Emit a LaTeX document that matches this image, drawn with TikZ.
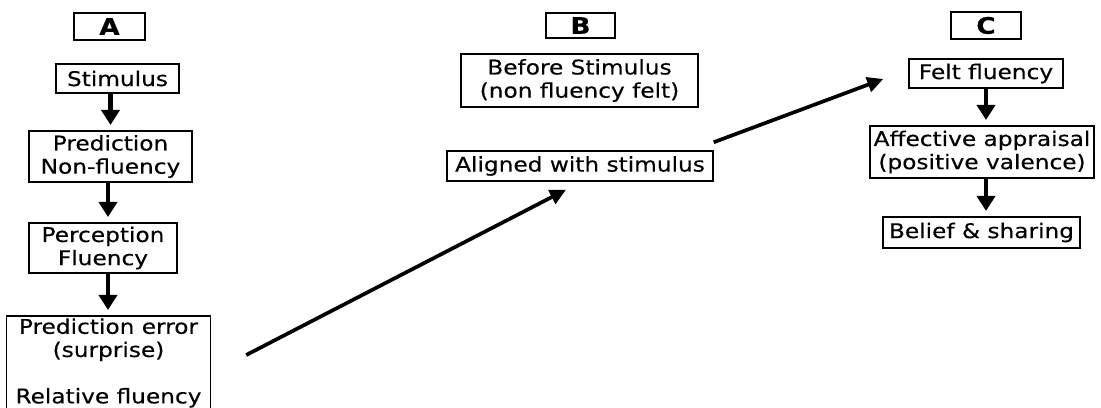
\documentclass[tikz,border=0pt]{standalone}
\usepackage{fontspec}
\setmainfont[FakeStretch=1.15,FakeBold=0.3]{DejaVu Sans}
\usetikzlibrary{arrows.meta}

\tikzset{
  box/.style={draw=black, line width=0.85pt, inner sep=0pt, align=center,
    font=\fontsize{11.5}{13.2}\selectfont},
  tag/.style={box, font=\bfseries\fontsize{13}{13}\selectfont},
  flow/.style={line width=2.4pt, -{Triangle[length=0.3cm,width=0.36cm]}, shorten >=3pt},
  jump/.style={line width=2.1pt, -{Triangle[length=0.32cm,width=0.3cm]}}
}

\begin{document}
\begin{tikzpicture}[x=0.02cm,y=-0.02cm]
\clip (0,0) rectangle (1101,408);
\fill[white] (0,0) rectangle (1101,408);

% column A
\node[tag, minimum width=1.42cm, minimum height=0.54cm] (tagA) at (109.5,26.5) {A};
\node[box, minimum width=2.46cm, minimum height=0.58cm] (stim) at (117.5,78.5) {Stimulus};
\node[box, minimum width=3.26cm, minimum height=1.02cm] (pred) at (110.5,156.5) {Prediction\\Non-fluency};
\node[box, minimum width=2.96cm, minimum height=1.0cm] (perc) at (103,248) {Perception\\Fluency};
\node[box, minimum width=4.08cm, minimum height=1.88cm] (err) at (108.5,363) {Prediction error\\(surprise)\\[13.2pt]Relative fluency};

% column B
\node[tag, minimum width=1.38cm, minimum height=0.5cm] (tagB) at (580.5,25.5) {B};
\node[box, minimum width=4.74cm, minimum height=1.06cm] (before) at (579.5,80.5) {Before Stimulus\\(non fluency felt)};
\node[box, minimum width=5.32cm, minimum height=0.6cm] (aligned) at (580,166) {Aligned with stimulus};

% column C
\node[tag, minimum width=1.4cm, minimum height=0.54cm] (tagC) at (986,25.5) {C};
\node[box, minimum width=3.08cm, minimum height=0.58cm] (felt) at (986,73.5) {Felt fluency};
\node[box, minimum width=4.48cm, minimum height=1.04cm] (affect) at (982,152) {Affective appraisal\\(positive valence)};
\node[box, minimum width=3.94cm, minimum height=0.62cm] (belief) at (981.5,232.5) {Belief \& sharing};

% arrows
\draw[flow] (pred.north |- stim.south) -- (pred.north);
\draw[flow] ([xshift=-0.05cm]pred.south) -- ([xshift=-0.05cm]pred.south |- perc.north);
\draw[flow] ([xshift=-0.05cm]pred.south |- perc.south) -- ([xshift=-0.05cm]pred.south |- err.north);
\draw[jump] ([xshift=0.7cm,yshift=0.16cm]err.east) -- ([xshift=-0.28cm,yshift=-0.16cm]aligned.south);
\draw[jump] ([yshift=0.16cm]aligned.north east) -- ([xshift=-0.5cm,yshift=-0.11cm]felt.west);
\draw[flow] (felt.south) -- (felt.south |- affect.north);
\draw[flow] (felt.south |- affect.south) -- (felt.south |- belief.north);
\end{tikzpicture}
\end{document}
